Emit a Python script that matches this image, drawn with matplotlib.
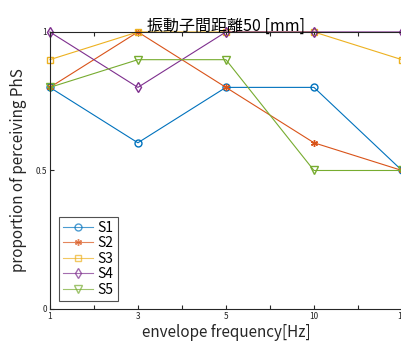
import numpy as np
import matplotlib.pyplot as plt

plt.rcParams['font.family'] = ['Noto Sans CJK JP', 'DejaVu Sans']

# envelope frequency categories and proportions per subject
freq_labels = ['1', '3', '5', '10', '15']
s1 = [0.8, 0.6, 0.8, 0.8, 0.5]
s2 = [0.8, 1.0, 0.8, 0.6, 0.5]
s3 = [0.9, 1.0, 1.0, 1.0, 0.9]
s4 = [1.0, 0.8, 1.0, 1.0, 1.0]
s5 = [0.8, 0.9, 0.9, 0.5, 0.5]

fig = plt.figure(figsize=(4.02, 3.42), dpi=100)
ax = fig.add_axes([0.124, 0.0965, 0.876, 0.81])

x = np.arange(len(freq_labels))
asterisk = (6, 2, 0)
ax.plot(x, s1, color='#0072BD', marker='o', mfc='none', ms=5, lw=0.8, label='S1')
ax.plot(x, s2, color='#D95319', marker=asterisk, ms=5, lw=0.8, label='S2')
ax.plot(x, s3, color='#EDB120', marker='s', mfc='none', ms=5, lw=0.8, label='S3')
ax.plot(x, s4, color='#7E2F8E', marker='d', mfc='none', ms=5.5, lw=0.8, label='S4')
ax.plot(x, s5, color='#77AC30', marker='v', mfc='none', ms=5.5, lw=0.8, label='S5')

ax.set_xlim(0, len(freq_labels) - 1)
ax.set_ylim(0, 1)
ticks = np.arange(0, len(freq_labels) - 0.5, 0.5)
ax.set_xticks(ticks)
ax.set_xticklabels([freq_labels[int(t)] if t == int(t) else '' for t in ticks])
ax.set_yticks([0, 0.5, 1])
ax.set_yticklabels(['0', '0.5', '1'])
ax.tick_params(direction='in', labelsize=6, length=3, width=0.8, top=True,
               colors='#262626', pad=2)

for side in ['left', 'bottom', 'top']:
    ax.spines[side].set_color('#262626')
    ax.spines[side].set_linewidth(0.8)
ax.spines['right'].set_visible(False)
for line in ax.get_lines():
    line.set_clip_on(False)

ax.set_xlabel('envelope frequency[Hz]', fontsize=11, color='#262626', labelpad=2)
ax.set_ylabel('proportion of perceiving PhS', fontsize=11, color='#262626', labelpad=6)
ax.set_title('振動子間距離50 [mm]', fontsize=11.5, pad=1)

leg = ax.legend(loc='lower left', bbox_to_anchor=(0.025, 0.03), fontsize=10,
                fancybox=False, edgecolor='#262626', handlelength=2.2,
                borderpad=0.3, labelspacing=0.1, handletextpad=0.3, borderaxespad=0)
leg.get_frame().set_linewidth(0.8)
for h in leg.legend_handles:
    h.set_alpha(0.7)

fig.savefig('out.png', dpi=100)
